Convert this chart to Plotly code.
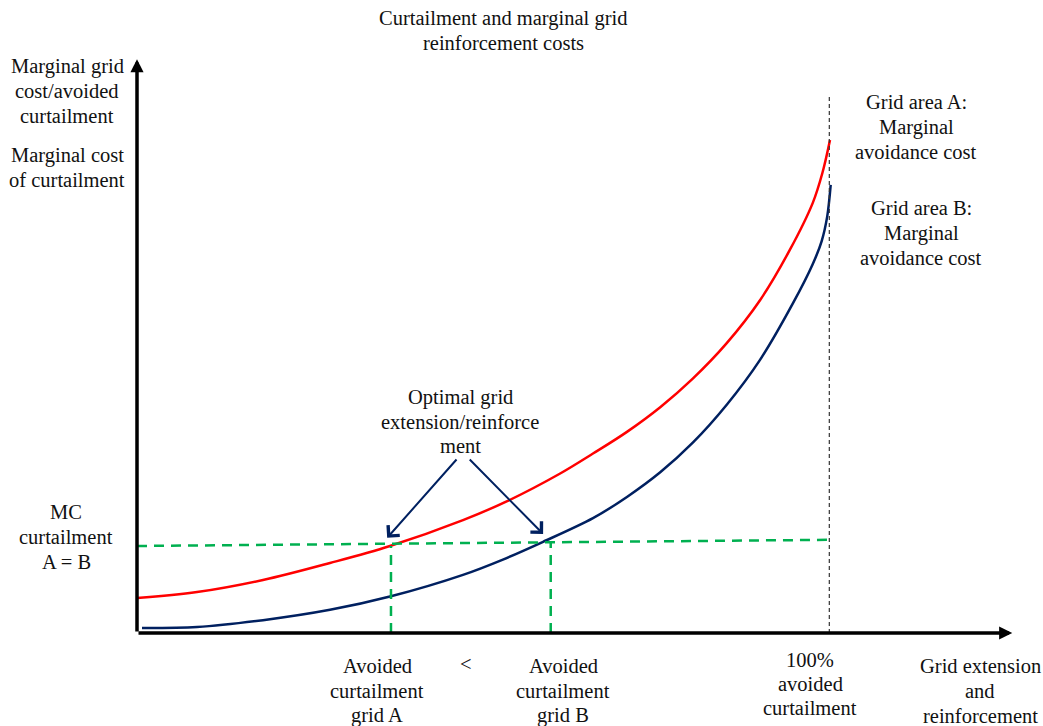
import plotly.graph_objects as go

W, H = 1043, 726
# pixel mapping used only to set the axis ranges (plot fills whole figure)
OX, OY = 137.0, 633.0      # origin in pixels
KX, KY = 6.93, 4.93        # pixels per data unit

# ---- data (x: % avoided curtailment, y: marginal cost index) ----
red_x = [0, 8.66, 18.18, 27.85, 36.5, 47.04, 53.5, 61.0, 65.8, 70.7, 75.5, 80.2, 85.1, 89.9, 94.2, 97.5, 98.9, 100]
red_y = [7.1, 8.3, 10.75, 14.2, 17.65, 22.9, 26.8, 32.3, 36.4, 40.8, 45.8, 51.6, 58.8, 67.5, 77.7, 87.2, 93.3, 100]

blue_x = [0.72, 8.66, 18.18, 27.85, 36.5, 47.04, 52.8, 58.6, 65.8, 70.7, 75.5, 80.2, 85.1, 89.9, 94.7, 97.5, 98.8, 99.6, 100.1]
blue_y = [1.0, 1.2, 2.6, 4.7, 7.4, 11.8, 14.9, 18.5, 23.3, 27.6, 32.6, 38.6, 46.3, 55.4, 67.0, 74.8, 79.5, 84.5, 90.9]

mc_x = [0, 99.6]
mc_y = [17.65, 18.9]

opt_a_x = [36.65, 36.65]
opt_a_y = [0, 17.65]
opt_b_x = [59.7, 59.7]
opt_b_y = [0, 18.5]

full_x = [99.9, 99.9]
full_y = [0, 109.1]

x_axis_end = 126.3
y_axis_end = 116.4

# arrows for "Optimal grid extension" label: (tail_x, tail_y, head_x, head_y)
opt_arrows = [(46.3, 35.5, 36.1, 19.3), (47.8, 35.5, 58.6, 20.1)]

fig = go.Figure()
fig.add_trace(go.Scatter(x=red_x, y=red_y, mode="lines",
                         line=dict(color="#FF0000", width=2.5, shape="spline", smoothing=1.0), hoverinfo="skip"))
fig.add_trace(go.Scatter(x=blue_x, y=blue_y, mode="lines",
                         line=dict(color="#002060", width=2.5, shape="spline", smoothing=0.9), hoverinfo="skip"))
for xs, ys in [(mc_x, mc_y), (opt_a_x, opt_a_y), (opt_b_x, opt_b_y)]:
    fig.add_trace(go.Scatter(x=xs, y=ys, mode="lines",
                             line=dict(color="#00B050", width=2.5, dash="10px,7px"), hoverinfo="skip"))
fig.add_trace(go.Scatter(x=full_x, y=full_y, mode="lines",
                         line=dict(color="#333333", width=1.2, dash="4px,3px"), hoverinfo="skip"))

FONT = dict(family="Liberation Serif, Times New Roman, serif", size=20.5, color="#111111")

ann = []
# axes with arrowheads
ann.append(dict(x=x_axis_end, y=0, ax=0, ay=0, xref="x", yref="y", axref="x", ayref="y", text="",
                showarrow=True, arrowhead=2, arrowsize=0.75, arrowwidth=3.5, arrowcolor="black", standoff=0, startstandoff=0))
ann.append(dict(x=0, y=y_axis_end, ax=0, ay=0, xref="x", yref="y", axref="x", ayref="y", text="",
                showarrow=True, arrowhead=2, arrowsize=0.75, arrowwidth=3.5, arrowcolor="black", standoff=0, startstandoff=0))
for tx, ty, hx, hy in opt_arrows:
    ann.append(dict(x=hx, y=hy, ax=tx, ay=ty, xref="x", yref="y", axref="x", ayref="y", text="",
                    showarrow=True, arrowhead=4, arrowsize=1.5, arrowwidth=2, arrowcolor="#002060", standoff=0))

# text blocks: (lines, center x px, first line center y px, line spacing px)
labels = [
    (["Curtailment and marginal grid", "reinforcement costs"], 503, 19, 24.5),
    (["Marginal grid", "cost/avoided", "curtailment"], 67, 67, 24.5),
    (["Marginal cost", "of curtailment"], 67, 155, 25),
    (["Grid area A:", "Marginal", "avoidance cost"], 916, 102, 25),
    (["Grid area B:", "Marginal", "avoidance cost"], 921, 208, 25),
    (["MC", "curtailment", "A = B"], 66, 512, 25),
    (["Optimal grid", "extension/reinforce", "ment"], 460, 397, 24.5),
    (["Avoided", "curtailment", "grid A"], 377, 666, 24.5),
    (["<"], 466, 664, 24.5),
    (["Avoided", "curtailment", "grid B"], 563, 666, 24.5),
    (["100%", "avoided", "curtailment"], 810, 660, 24),
    (["Grid extension", "and", "reinforcement"], 980, 666, 25),
]
for lines, px, py0, dy in labels:
    for i, t in enumerate(lines):
        py = py0 + i * dy
        ann.append(dict(text=t, x=px / W, y=1 - py / H, xref="paper", yref="paper", showarrow=False,
                        xanchor="center", yanchor="middle", align="center", font=FONT))

fig.update_layout(
    width=W, height=H, margin=dict(l=0, r=0, t=0, b=0),
    paper_bgcolor="white", plot_bgcolor="white", showlegend=False,
    xaxis=dict(range=[-OX / KX, (W - OX) / KX], visible=False, fixedrange=True),
    yaxis=dict(range=[-(H - OY) / KY, OY / KY], visible=False, fixedrange=True),
    annotations=ann,
)
fig.write_html("out.html", config={"displayModeBar": False},
               post_script="document.body.style.margin='0px';document.body.style.overflow='hidden';")
